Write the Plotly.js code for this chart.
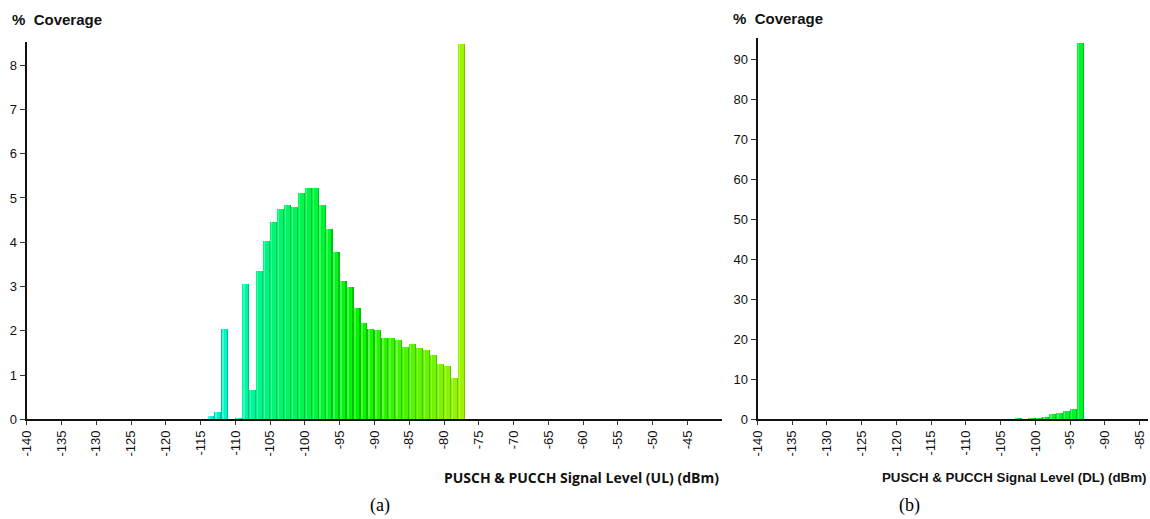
<!DOCTYPE html>
<html>
<head>
<meta charset="utf-8">
<script src="https://cdn.plot.ly/plotly-3.0.1.min.js"></script>
<style>
html,body{margin:0;padding:0;background:#fff;}
#chart{width:1150px;height:519px;}
</style>
</head>
<body>
<div id="chart"></div>
<script>
// ---- Data (bin left edge in dBm, % coverage) ----
const ulBins = [-114,-113,-112,-111,-110,-109,-108,-107,-106,-105,-104,-103,-102,-101,-100,-99,-98,-97,-96,-95,-94,-93,-92,-91,-90,-89,-88,-87,-86,-85,-84,-83,-82,-81,-80,-79,-78];
const ulValues = [0.08,0.17,2.04,0,0.04,3.06,0.67,3.36,4.02,4.45,4.74,4.83,4.80,5.11,5.22,5.22,4.84,4.29,3.79,3.13,2.98,2.51,2.17,2.04,2.01,1.83,1.83,1.80,1.63,1.71,1.60,1.56,1.46,1.26,1.20,0.94,8.48];
const dlBins = [-103,-102,-101,-100,-99,-98,-97,-96,-95,-94];
const dlValues = [0.3,0,0.3,0.3,0.65,1.25,1.5,2.2,2.5,94.2];
const ulTicks = [-140,-135,-130,-125,-120,-115,-110,-105,-100,-95,-90,-85,-80,-75,-70,-65,-60,-55,-50,-45];
const ulTickText = ['-140','-135','-130','-125','-120','-115','-110','-105','-100','-95','-90','-85','-80','-75','-70','-65','-60','-55','-50','-45'];
const dlTicks = [-140,-135,-130,-125,-120,-115,-110,-105,-100,-95,-90,-85];
const dlTickText = ['-140','-135','-130','-125','-120','-115','-110','-105','-100','-95','-90','-85'];
const ulTitle = 'PUSCH &amp; PUCCH Signal Level (UL) (dBm)';
const dlTitle = 'PUSCH &amp; PUCCH Signal Level (DL) (dBm)';
const yTitle = '%&nbsp;&nbsp;Coverage';

// ---- Styles ----
const W = 1150, H = 519;
const px = v => v / W;
const py = v => 1 - v / H;

function ulHue(x){ const t = (x + 114) / 36; return 172 - 90 * t; }
const ulCol = L => ulBins.map(x => `hsl(${ulHue(x).toFixed(1)},100%,${L}%)`);
const dlCol = L => dlBins.map(() => `hsl(130,100%,${L}%)`);

function layers(bins, vals, colFn, xa, ya){
  return [
    {type:'bar', x:bins, y:vals, width:1, offset:0, xaxis:xa, yaxis:ya,
     marker:{color:colFn(38), line:{width:0}}, hoverinfo:'skip'},
    {type:'bar', x:bins, y:vals, width:0.8, offset:0.02, xaxis:xa, yaxis:ya,
     marker:{color:colFn(48), line:{width:0}}, hoverinfo:'skip'},
    {type:'bar', x:bins, y:vals, width:0.22, offset:0.1, xaxis:xa, yaxis:ya,
     marker:{color:colFn(62), line:{width:0}}, hoverinfo:'skip'}
  ];
}

const data = [
  ...layers(ulBins, ulValues, ulCol, 'x', 'y'),
  ...layers(dlBins, dlValues, dlCol, 'x2', 'y2')
];

const tickFont = {family:'"Liberation Sans", Arial, sans-serif', size:13, color:'#111'};
const ulXRange = [-140, -40.1];
const dlXRange = [-140, -83.8];
const ulYRange = [0, 8.53];
const dlYRange = [0, 95.3];
const domUlX = [px(26.7), px(721.5)];
const domDlX = [px(757.5), px(1148)];
const domUlY = [py(419.3), py(41.7)];
const domDlY = [py(419.3), py(38.3)];

const xBase = {showgrid:false, zeroline:false, showline:true, linecolor:'#111', linewidth:2,
  ticks:'outside', ticklen:4, tickwidth:1, tickcolor:'#333', tickangle:-90, tickfont:tickFont,
  tickmode:'array', fixedrange:true};
const yBase = {showgrid:false, zeroline:false, showline:true, linecolor:'#111', linewidth:2,
  ticks:'outside', ticklen:5, tickwidth:1, tickcolor:'#333', tickfont:tickFont, fixedrange:true};
const inX = {showgrid:false, zeroline:false, showline:false, ticks:'inside', ticklen:4, tickwidth:1,
  tickcolor:'#333', showticklabels:false, tickmode:'array', fixedrange:true};
const inY = {showgrid:false, zeroline:false, showline:false, ticks:'inside', ticklen:4, tickwidth:1,
  tickcolor:'#333', showticklabels:false, fixedrange:true};

const layout = {
  width:W, height:H, autosize:false,
  margin:{l:0,r:0,t:0,b:0,pad:0},
  paper_bgcolor:'#fff', plot_bgcolor:'rgba(0,0,0,0)',
  showlegend:false, barmode:'overlay', bargap:0,
  xaxis: Object.assign({}, xBase, {domain:domUlX, range:ulXRange, anchor:'y', tickvals:ulTicks, ticktext:ulTickText}),
  yaxis: Object.assign({}, yBase, {domain:domUlY, range:ulYRange, anchor:'x', dtick:1, tick0:0}),
  xaxis2: Object.assign({}, xBase, {domain:domDlX, range:dlXRange, anchor:'y2', tickvals:dlTicks, ticktext:dlTickText}),
  yaxis2: Object.assign({}, yBase, {domain:domDlY, range:dlYRange, anchor:'x2', dtick:10, tick0:0}),
  xaxis3: Object.assign({}, inX, {overlaying:'x', range:ulXRange, anchor:'y', tickvals:ulTicks}),
  yaxis3: Object.assign({}, inY, {overlaying:'y', range:ulYRange, anchor:'x', dtick:1, tick0:0}),
  xaxis4: Object.assign({}, inX, {overlaying:'x2', range:dlXRange, anchor:'y2', tickvals:dlTicks}),
  yaxis4: Object.assign({}, inY, {overlaying:'y2', range:dlYRange, anchor:'x2', dtick:10, tick0:0}),
  annotations: [
    {text:yTitle, xref:'paper', yref:'paper', x:px(10), y:py(30), xanchor:'left', yanchor:'bottom',
     showarrow:false, font:{family:'"Liberation Sans", Arial, sans-serif', size:15, color:'#111', weight:'bold'}},
    {text:yTitle, xref:'paper', yref:'paper', x:px(731), y:py(29), xanchor:'left', yanchor:'bottom',
     showarrow:false, font:{family:'"Liberation Sans", Arial, sans-serif', size:15, color:'#111', weight:'bold'}},
    {text:ulTitle, xref:'paper', yref:'paper', x:px(721), y:py(489), xanchor:'right', yanchor:'bottom',
     showarrow:false, font:{family:'"Open Sans", sans-serif', size:14, color:'#111', weight:'bold'}},
    {text:dlTitle, xref:'paper', yref:'paper', x:px(1148), y:py(487), xanchor:'right', yanchor:'bottom',
     showarrow:false, font:{family:'"Liberation Sans", Arial, sans-serif', size:13.3, color:'#111', weight:'bold'}},
    {text:'(a)', xref:'paper', yref:'paper', x:px(380), y:py(518), xanchor:'center', yanchor:'bottom',
     showarrow:false, font:{family:'"Liberation Serif", "Times New Roman", serif', size:18, color:'#000'}},
    {text:'(b)', xref:'paper', yref:'paper', x:px(909), y:py(518), xanchor:'center', yanchor:'bottom',
     showarrow:false, font:{family:'"Liberation Serif", "Times New Roman", serif', size:18, color:'#000'}}
  ]
};

Plotly.newPlot('chart', data, layout, {staticPlot:true, displayModeBar:false});
</script>
</body>
</html>
